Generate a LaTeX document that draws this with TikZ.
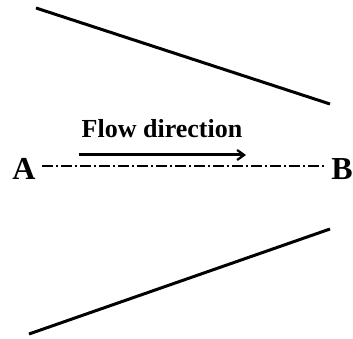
\documentclass[tikz,border=0pt]{standalone}
\usepackage{fontspec}
\setmainfont{Liberation Serif}
\usetikzlibrary{arrows.meta}

\tikzset{
  wall/.style={line width=3pt},
  axisline/.style={line width=1.8pt, dash pattern=on 11pt off 3pt on 2pt off 3pt},
  flowarrow/.style={line width=3pt, -{Straight Barb[length=7pt, width=10pt, line width=2.2pt]}},
  endlabel/.style={font=\bfseries\fontsize{32}{32}\selectfont, inner sep=0pt, anchor=base},
}

\begin{document}
\begin{tikzpicture}[x=1pt, y=-1pt]
  \useasboundingbox (0,0) rectangle (353,339);
  % Diverging walls
  \draw[wall] (36,8) -- (330,104);
  \draw[wall] (330,229) -- (29,334);
  % End points of the axis
  \node[endlabel] (A) at (24,179) {A};
  \node[endlabel] (B) at (342,179) {B};
  % Center line
  \draw[axisline, shorten <=6pt, shorten >=6pt] (A.east |- 0,166) -- (B.west |- 0,166);
  % Flow direction
  \node[font=\bfseries\fontsize{26}{26}\selectfont, inner sep=0pt, anchor=base] (flow) at (162,138) {Flow direction};
  \coordinate (fstart) at (79,155);
  \coordinate (fend) at (246,155);
  \draw[flowarrow] (fstart) -- (fend);
\end{tikzpicture}
\end{document}
